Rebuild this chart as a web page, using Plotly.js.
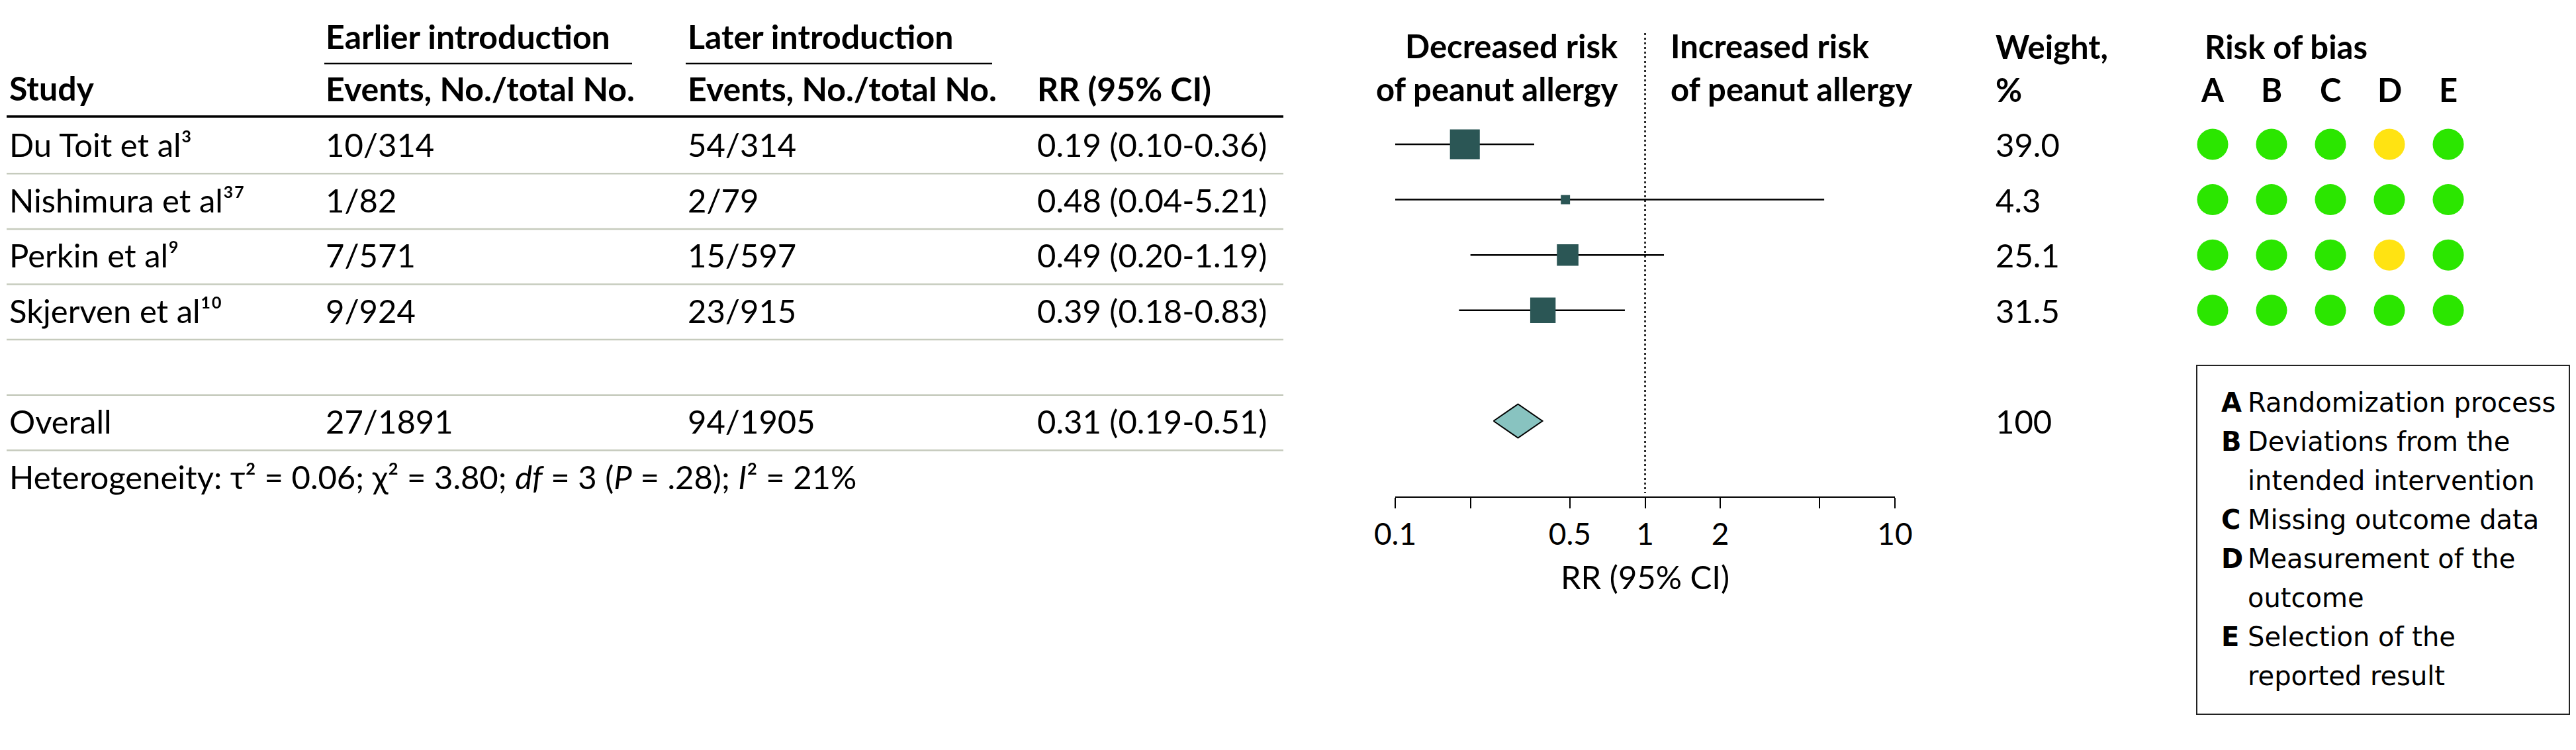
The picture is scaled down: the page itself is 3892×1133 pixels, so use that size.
<!DOCTYPE html>
<html>
<head>
<meta charset="utf-8">
<script src="https://cdn.plot.ly/plotly-3.0.1.min.js"></script>
<style>
  html, body { margin: 0; padding: 0; background: #ffffff; }
  #chart { width: 3892px; height: 1133px; }
</style>
</head>
<body>
<div id="chart"></div>
<script>
// ---------------- DATA ----------------
const studyNames = ['Du Toit et al', 'Nishimura et al', 'Perkin et al', 'Skjerven et al'];
const studyRefs = ['3', '37', '9', '10'];
const earlierEvents = ['10/314', '1/82', '7/571', '9/924'];
const laterEvents = ['54/314', '2/79', '15/597', '23/915'];
const rr = [0.19, 0.48, 0.49, 0.39];
const ciLow = [0.10, 0.04, 0.20, 0.18];
const ciHigh = [0.36, 5.21, 1.19, 0.83];
const weights = [39.0, 4.3, 25.1, 31.5];

const overallLabel = 'Overall';
const overallEarlier = '27/1891';
const overallLater = '94/1905';
const overallRR = 0.31;
const overallLow = 0.19;
const overallHigh = 0.51;
const overallWeight = '100';

const hetTau2 = '0.06';
const hetChi2 = '3.80';
const hetDf = '3';
const hetP = '.28';
const hetI2 = '21%';

const biasDomains = ['A', 'B', 'C', 'D', 'E'];
const biasRatings = [
  ['low', 'low', 'low', 'some', 'low'],
  ['low', 'low', 'low', 'low', 'low'],
  ['low', 'low', 'low', 'some', 'low'],
  ['low', 'low', 'low', 'low', 'low']
];
const biasLegend = [
  ['A', 'Randomization process'],
  ['B', 'Deviations from the'],
  ['', 'intended intervention'],
  ['C', 'Missing outcome data'],
  ['D', 'Measurement of the'],
  ['', 'outcome'],
  ['E', 'Selection of the'],
  ['', 'reported result']
];

const axisTicks = [0.1, 0.5, 1, 2, 10];
const axisTickText = ['0.1', '0.5', '1', '2', '10'];
const axisMinorTicks = [0.2, 5];

// ---------------- LAYOUT HELPERS ----------------
const W = 3892, H = 1133;
const ROW0 = 218, ROWH = 83.6;
const px = v => v / W;
const py = v => 1 - v / H;
const rowFromPx = p => (p - ROW0) / ROWH;

const SUPS = { '0': '\u2070', '1': '\u00B9', '2': '\u00B2', '3': '\u00B3', '4': '\u2074', '5': '\u2075', '6': '\u2076', '7': '\u2077', '8': '\u2078', '9': '\u2079' };
const sup = s => s.split('').map(c => SUPS[c] || c).join('');

const FONT = 'Lato, "Open Sans", sans-serif';
const LEG_FONT = '"DejaVu Sans", sans-serif';
const BODY = 49, HEAD = 50;
const SQUARE = '#2b5655', DIAMOND = '#88c3c0';
const RATING_COLOR = { low: '#2be600', some: '#ffe312' };
const SEP = '#c6cbbd';

const COL_STUDY = 13, COL_EARLY = 491, COL_LATE = 1038, COL_RR = 1566, COL_WEIGHT = 3014;

function txt(text, x, y, o) {
  o = o || {};
  const size = o.size || BODY;
  const anchor = o.anchor || 'left';
  const yref = o.yref || 'paper';
  return {
    text: o.bold ? '<b>' + text + '</b>' : text,
    x: o.xref ? x : px(x), xref: o.xref || 'paper',
    y: yref === 'paper' ? py(y) : y, yref: yref,
    xanchor: anchor, yanchor: 'middle', align: anchor === 'right' ? 'right' : 'left',
    showarrow: false, borderpad: 0,
    font: { family: o.family || FONT, size: size, color: '#000000' }
  };
}
const fmt = v => v.toFixed(2);
const rrText = (e, l, h) => fmt(e) + ' (' + fmt(l) + '-' + fmt(h) + ')';

const annotations = [];
annotations.push(txt('Study', COL_STUDY, 133, { bold: true, size: HEAD }));
annotations.push(txt('Earlier introduction', COL_EARLY, 55, { bold: true, size: HEAD }));
annotations.push(txt('Events, No./total No.', COL_EARLY, 134, { bold: true, size: HEAD }));
annotations.push(txt('Later introduction', COL_LATE, 55, { bold: true, size: HEAD }));
annotations.push(txt('Events, No./total No.', COL_LATE, 134, { bold: true, size: HEAD }));
annotations.push(txt('RR (95% CI)', COL_RR, 134, { bold: true, size: HEAD }));
annotations.push(txt('Decreased risk', 2446, 69, { bold: true, anchor: 'right' }));
annotations.push(txt('of peanut allergy', 2446, 134, { bold: true, anchor: 'right' }));
annotations.push(txt('Increased risk', 2523, 69, { bold: true }));
annotations.push(txt('of peanut allergy', 2523, 134, { bold: true }));
annotations.push(txt('Weight,', COL_WEIGHT, 70, { bold: true }));
annotations.push(txt('%', COL_WEIGHT, 135, { bold: true }));
annotations.push(txt('Risk of bias', 3330, 70, { bold: true }));
biasDomains.forEach(d => {
  annotations.push(Object.assign(txt(d, d, 135, { bold: true, xref: 'x2' }), { xanchor: 'center', align: 'center' }));
});

studyNames.forEach((s, i) => {
  annotations.push(txt(s + sup(studyRefs[i]), COL_STUDY, i, { yref: 'y' }));
  annotations.push(txt(earlierEvents[i], COL_EARLY, i, { yref: 'y' }));
  annotations.push(txt(laterEvents[i], COL_LATE, i, { yref: 'y' }));
  annotations.push(txt(rrText(rr[i], ciLow[i], ciHigh[i]), COL_RR, i, { yref: 'y' }));
  annotations.push(txt(weights[i].toFixed(1), COL_WEIGHT, i, { yref: 'y' }));
});
const OVERALL_ROW = studyNames.length + 1;
annotations.push(txt(overallLabel, COL_STUDY, OVERALL_ROW, { yref: 'y' }));
annotations.push(txt(overallEarlier, COL_EARLY, OVERALL_ROW, { yref: 'y' }));
annotations.push(txt(overallLater, COL_LATE, OVERALL_ROW, { yref: 'y' }));
annotations.push(txt(rrText(overallRR, overallLow, overallHigh), COL_RR, OVERALL_ROW, { yref: 'y' }));
annotations.push(txt(overallWeight, COL_WEIGHT, OVERALL_ROW, { yref: 'y' }));
annotations.push(txt('Heterogeneity: τ' + sup('2') + ' = ' + hetTau2 + '; χ' + sup('2') + ' = ' + hetChi2 +
  '; <i>df</i> = ' + hetDf + ' (<i>P</i> = ' + hetP + '); <i>I</i>' + sup('2') + ' = ' + hetI2,
  COL_STUDY, OVERALL_ROW + 1, { yref: 'y' }));

biasLegend.forEach((ln, k) => {
  const mid = 622 + 59 * k - 14;
  if (ln[0]) annotations.push(txt(ln[0], 3355, mid, { bold: true, family: LEG_FONT, size: 40 }));
  annotations.push(txt(ln[1], 3395, mid, { family: LEG_FONT, size: 40 }));
});

// ---------------- SHAPES ----------------
const shapes = [];
const hline = (x0, x1, y, color, width, yref) => ({
  type: 'line', xref: 'paper', yref: yref || 'paper', x0: px(x0), x1: px(x1),
  y0: yref === 'y' ? y : py(y), y1: yref === 'y' ? y : py(y), line: { color: color, width: width }
});
shapes.push(hline(490, 955, 96, '#000', 2.5));
shapes.push(hline(1036, 1499, 96, '#000', 2.5));
shapes.push(hline(10, 1939, 176, '#000', 3.5));
for (let k = 0; k <= OVERALL_ROW; k++) shapes.push(hline(10, 1939, k + 0.53, SEP, 2.5, 'y'));
shapes.push({ type: 'rect', xref: 'paper', yref: 'paper', x0: px(3319), x1: px(3882), y0: py(552), y1: py(1079),
  line: { color: '#222', width: 2 }, fillcolor: 'rgba(0,0,0,0)' });

// ---------------- TRACES ----------------
const rows = studyNames.map((_, i) => i);
const ciX = [], ciY = [];
rows.forEach(i => { ciX.push(ciLow[i], ciHigh[i], null); ciY.push(i, i, null); });

const nullLine = { type: 'scatter', mode: 'lines', x: [1, 1], y: [rowFromPx(50), rowFromPx(745)],
  line: { color: '#000', width: 2.5, dash: '3px,4px' }, hoverinfo: 'skip' };
const ciTrace = { type: 'scatter', mode: 'lines', x: ciX, y: ciY, line: { color: '#000', width: 2.5 }, hoverinfo: 'skip' };
const squares = { type: 'scatter', mode: 'markers', x: rr, y: rows,
  marker: { symbol: 'square', color: SQUARE, opacity: 1, size: weights.map(w => 10 + 0.9 * w), line: { width: 0 } } };
const HALF_DEC = 0.098, HALF_H = 0.305;
const diamond = { type: 'scatter', mode: 'lines', fill: 'toself', fillcolor: DIAMOND,
  x: [overallRR * Math.pow(10, -HALF_DEC), overallRR, overallRR * Math.pow(10, HALF_DEC), overallRR, overallRR * Math.pow(10, -HALF_DEC)],
  y: [OVERALL_ROW, OVERALL_ROW - HALF_H, OVERALL_ROW, OVERALL_ROW + HALF_H, OVERALL_ROW],
  line: { color: '#000', width: 2 } };
const bx = [], by = [], bc = [];
biasRatings.forEach((r, i) => r.forEach((v, j) => { bx.push(biasDomains[j]); by.push(i); bc.push(RATING_COLOR[v]); }));
const circles = { type: 'scatter', mode: 'markers', xaxis: 'x2', yaxis: 'y', x: bx, y: by,
  marker: { symbol: 'circle', size: 47, color: bc, opacity: 1, line: { width: 0 } } };

const layout = {
  width: W, height: H, margin: { l: 0, r: 0, t: 0, b: 0, pad: 0 },
  paper_bgcolor: '#ffffff', plot_bgcolor: 'rgba(0,0,0,0)', showlegend: false, hovermode: false,
  font: { family: FONT, color: '#000' },
  xaxis: {
    type: 'log', range: [-1, 1], domain: [px(2108), px(2863)], anchor: 'free', position: py(751),
    showline: true, linecolor: '#000', linewidth: 2, mirror: false,
    ticks: 'outside', ticklen: 16, tickwidth: 2, tickcolor: '#000',
    tickmode: 'array', tickvals: axisTicks, ticktext: axisTickText,
    minor: { tickmode: 'array', tickvals: axisMinorTicks, ticks: 'outside', ticklen: 16, tickwidth: 2, tickcolor: '#000', showgrid: false },
    tickfont: { family: FONT, size: 46, color: '#000' },
    showgrid: false, zeroline: false,
    title: { text: 'RR (95% CI)', font: { family: FONT, size: BODY, color: '#000' }, standoff: 22 }
  },
  xaxis2: {
    type: 'category', categoryorder: 'array', categoryarray: biasDomains, range: [-0.5, 4.5],
    domain: [px(3298.5), px(3743.5)], anchor: 'y', showline: false, showgrid: false, zeroline: false,
    ticks: '', showticklabels: false
  },
  yaxis: {
    range: [rowFromPx(H), rowFromPx(0)], domain: [0, 1], visible: false, showgrid: false, zeroline: false
  },
  annotations: annotations,
  shapes: shapes
};

Plotly.newPlot('chart', [nullLine, ciTrace, squares, diamond, circles], layout, { staticPlot: true, displayModeBar: false });
</script>
</body>
</html>
